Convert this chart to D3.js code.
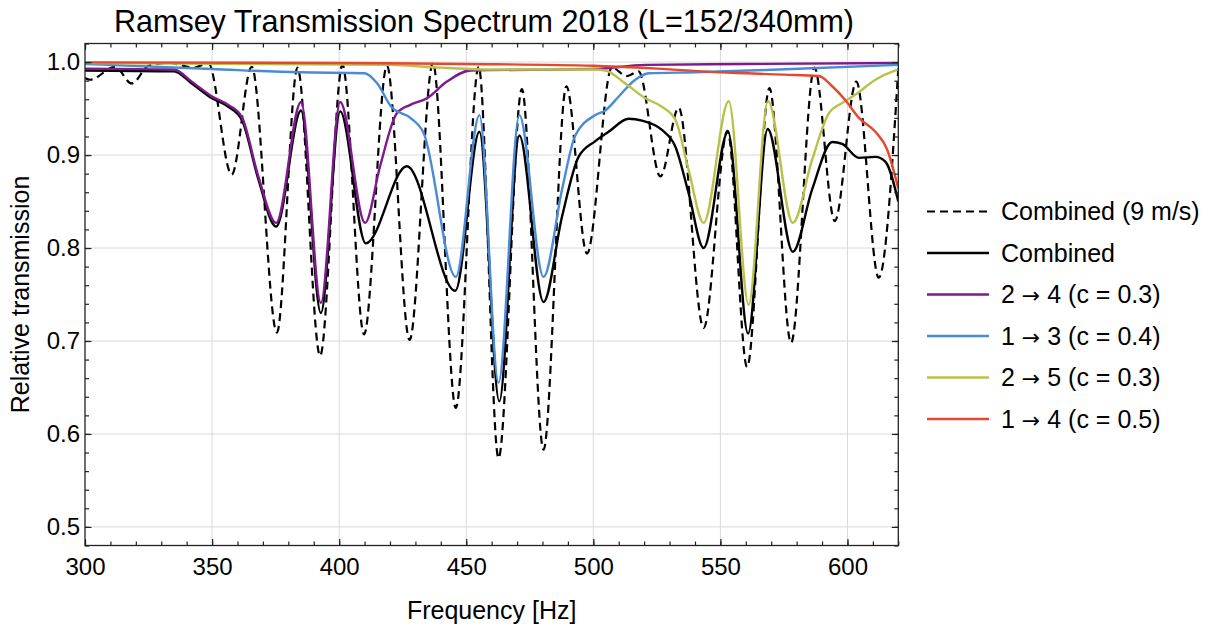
<!DOCTYPE html>
<html>
<head>
<meta charset="utf-8">
<script src="https://cdn.jsdelivr.net/npm/d3@7"></script>
<style>
    body { margin: 0; background: #fff; }
    svg { display: block; background: #fff; }
</style>
</head>
<body>
<svg id="chart" width="1208" height="628"></svg>
<script>
const FONT = "Arial, 'Liberation Sans', Helvetica, sans-serif";
const ARROW_FONT = "'DejaVu Sans', sans-serif";

const TITLE = 'Ramsey Transmission Spectrum 2018 (L=152/340mm)';
const X_LABEL = 'Frequency [Hz]';
const Y_LABEL = 'Relative transmission';
const X_TICKS = [300, 350, 400, 450, 500, 550, 600];
const Y_TICKS = [0.5, 0.6, 0.7, 0.8, 0.9, 1.0];

// [frequency Hz, relative transmission]
const combined9 = [
    [300, 0.983], [302, 0.981], [311.8, 0.995], [318.4, 0.977], [325, 0.996], [333, 0.999],
    [343, 0.994], [348.5, 0.999], [357.7, 0.879], [365.6, 0.995], [375.5, 0.709], [383.6, 0.994],
    [392.5, 0.684], [401.3, 0.997], [409.8, 0.707], [418.8, 0.996], [427.7, 0.701], [436.9, 0.999],
    [445.9, 0.628], [454.9, 0.995], [462.7, 0.574], [471.9, 0.971], [480.4, 0.583], [489.4, 0.974],
    [497.5, 0.794], [507.3, 0.994], [513.2, 0.985], [517.8, 0.990], [526.4, 0.877], [533.6, 0.951],
    [543.4, 0.714], [552.8, 0.926], [560.5, 0.672], [569.3, 0.972], [577.8, 0.698], [587, 0.994],
    [595, 0.829], [603.5, 0.979], [612.3, 0.768], [620, 0.993],
];

const combined = [
    [300, 0.991], [335, 0.990], [342, 0.977], [350, 0.961], [356.4, 0.952], [361.7, 0.938],
    [368.2, 0.874], [375.2, 0.823], [385, 0.948], [392.8, 0.730], [400.4, 0.947], [410.5, 0.805],
    [426.6, 0.888], [445.7, 0.754], [455.2, 0.925], [463, 0.635], [470.9, 0.921], [480.4, 0.742],
    [487.7, 0.834], [494.2, 0.898], [500.8, 0.915], [506, 0.925], [513.9, 0.939], [519.2, 0.937],
    [527, 0.927], [532.3, 0.909], [537.5, 0.859], [543.4, 0.800], [553, 0.925], [560.9, 0.708],
    [568.6, 0.928], [578.5, 0.796], [586.1, 0.863], [594, 0.914], [597.9, 0.912], [604.5, 0.897],
    [611, 0.898], [614.9, 0.893], [620, 0.850],
];

const trans24 = [
    [300, 0.993], [335, 0.992], [342, 0.979], [350, 0.963], [356.4, 0.954], [361.7, 0.941],
    [368.2, 0.877], [375.2, 0.827], [385, 0.957], [392.8, 0.741], [400.4, 0.957], [410.2, 0.827],
    [416.1, 0.888], [422.7, 0.945], [428, 0.954], [434.5, 0.961], [442.4, 0.979], [451.6, 0.991],
    [500, 0.9925], [520.5, 0.997], [560, 0.998], [620, 0.999],
];

const trans13 = [
    [300, 0.998], [350, 0.9925], [385, 0.989], [410, 0.988], [415, 0.977], [420.5, 0.952],
    [428, 0.940], [433.2, 0.924], [445.9, 0.769], [455.2, 0.943], [462.7, 0.655], [470.9, 0.943],
    [480.4, 0.769], [487.7, 0.863], [492.9, 0.921], [500.8, 0.943], [504.7, 0.948], [510, 0.963],
    [516.5, 0.981], [521.8, 0.988], [540, 0.989], [573, 0.992], [620, 0.997],
];

const trans25 = [
    [300, 0.999], [420, 0.997], [440, 0.994], [460, 0.992], [500, 0.992], [504.7, 0.991],
    [512.6, 0.977], [520.5, 0.961], [527, 0.952], [532.3, 0.938], [537.5, 0.884], [543.4, 0.827],
    [553.3, 0.958], [561.1, 0.739], [568.7, 0.958], [578.5, 0.827], [586.1, 0.895], [592.7, 0.945],
    [597.9, 0.956], [603.1, 0.965], [611, 0.981], [618.9, 0.991], [620, 0.992],
];

const trans14 = [
    [300, 0.9997], [400, 0.999], [450, 0.998], [500, 0.996], [525, 0.993], [550, 0.989],
    [575, 0.9865], [588.7, 0.985], [594, 0.974], [599.2, 0.959], [604.5, 0.940], [611, 0.925],
    [615.6, 0.906], [620, 0.864],
];

const SERIES = [
    { name: 'Combined (9 m/s)', data: combined9, color: '#000000', dash: '8,5' },
    { name: 'Combined', data: combined, color: '#000000' },
    { name: '2 \u2192 4 (c = 0.3)', data: trans24, color: '#7e1a8c' },
    { name: '1 \u2192 3 (c = 0.4)', data: trans13, color: '#4a8ad6' },
    { name: '2 \u2192 5 (c = 0.3)', data: trans25, color: '#b8c24a' },
    { name: '1 \u2192 4 (c = 0.5)', data: trans14, color: '#e4482e' },
];

const plot = { left: 85, right: 898.3, top: 43.5, bottom: 545.5 };

const x = d3.scaleLinear().domain([300, 620]).range([plot.left, plot.right]);
const y = d3.scaleLinear().domain([0.48, 1.02]).range([plot.bottom, plot.top]);

const svg = d3.select('#chart').attr('font-family', FONT);

svg.append('rect').attr('width', 1208).attr('height', 628).attr('fill', '#fff');

// grid
const grid = svg.append('g').attr('stroke', '#d9d9d9').attr('stroke-width', 1);
grid.selectAll('line.gx')
    .data(X_TICKS.filter(d => d > 300))
    .join('line')
    .attr('x1', d => x(d))
    .attr('x2', d => x(d))
    .attr('y1', plot.top)
    .attr('y2', plot.bottom);
grid.selectAll('line.gy')
    .data(Y_TICKS)
    .join('line')
    .attr('x1', plot.left)
    .attr('x2', plot.right)
    .attr('y1', d => y(d))
    .attr('y2', d => y(d));

// curves
svg.append('clipPath')
    .attr('id', 'clip')
    .append('rect')
    .attr('x', plot.left)
    .attr('y', plot.top)
    .attr('width', plot.right - plot.left)
    .attr('height', plot.bottom - plot.top);

const line = d3
    .line()
    .x(d => x(d[0]))
    .y(d => y(d[1]))
    .curve(d3.curveMonotoneX);

svg.append('g')
    .attr('clip-path', 'url(#clip)')
    .selectAll('path')
    .data(SERIES)
    .join('path')
    .attr('fill', 'none')
    .attr('stroke', d => d.color)
    .attr('stroke-width', d => (d.dash ? 2.2 : 2.4))
    .attr('stroke-dasharray', d => d.dash || null)
    .attr('stroke-linejoin', 'round')
    .attr('d', d => line(d.data));

// frame + ticks on all four sides
const xMinor = d3.range(300, 621, 10);
const yMinor = d3.range(48, 103, 2).map(v => v / 100);

function addAxis(axis, transform, values, size, labels) {
    const g = svg
        .append('g')
        .attr('transform', transform)
        .call(
            axis.tickValues(values)
                .tickSizeInner(-size)
                .tickSizeOuter(0)
                .tickPadding(labels ? labels.pad : 0)
                .tickFormat(labels ? labels.fmt : ''),
        );
    g.select('.domain').remove();
    g.attr('font-family', FONT).attr('font-size', 24);
    g.selectAll('line').attr('stroke', '#222').attr('stroke-width', 1.2);
    return g;
}

const fmtX = d3.format('d');
const fmtY = d3.format('.1f');

addAxis(d3.axisBottom(x), `translate(0,${plot.bottom})`, xMinor, 4);
addAxis(d3.axisBottom(x), `translate(0,${plot.bottom})`, X_TICKS, 6.5, { fmt: fmtX, pad: 12 });
addAxis(d3.axisTop(x), `translate(0,${plot.top})`, xMinor, 4);
addAxis(d3.axisTop(x), `translate(0,${plot.top})`, X_TICKS, 6.5);
addAxis(d3.axisLeft(y), `translate(${plot.left},0)`, yMinor, 4);
addAxis(d3.axisLeft(y), `translate(${plot.left},0)`, Y_TICKS, 6.5, { fmt: fmtY, pad: 5 });
addAxis(d3.axisRight(y), `translate(${plot.right},0)`, yMinor, 4);
addAxis(d3.axisRight(y), `translate(${plot.right},0)`, Y_TICKS, 6.5);

svg.append('rect')
    .attr('x', plot.left)
    .attr('y', plot.top)
    .attr('width', plot.right - plot.left)
    .attr('height', plot.bottom - plot.top)
    .attr('fill', 'none')
    .attr('stroke', '#222')
    .attr('stroke-width', 1.3);

// titles
svg.append('text')
    .attr('x', 484)
    .attr('y', 32)
    .attr('text-anchor', 'middle')
    .attr('font-size', 30.5)
    .attr('fill', '#000')
    .text(TITLE);

svg.append('text')
    .attr('x', (plot.left + plot.right) / 2)
    .attr('y', 619)
    .attr('text-anchor', 'middle')
    .attr('font-size', 25)
    .attr('fill', '#000')
    .text(X_LABEL);

svg.append('text')
    .attr('transform', `translate(29,${(plot.top + plot.bottom) / 2}) rotate(-90)`)
    .attr('text-anchor', 'middle')
    .attr('font-size', 25)
    .attr('fill', '#000')
    .text(Y_LABEL);

// legend
const legend = svg
    .append('g')
    .selectAll('g')
    .data(SERIES)
    .join('g')
    .attr('transform', (d, i) => `translate(927,${211.5 + i * 41.5})`);

legend.append('line')
    .attr('x1', 0)
    .attr('x2', 62)
    .attr('stroke', d => d.color)
    .attr('stroke-width', d => (d.dash ? 2.2 : 2.4))
    .attr('stroke-dasharray', d => d.dash || null);

legend.append('text')
    .attr('x', 74)
    .attr('dy', '0.35em')
    .attr('font-size', 25)
    .attr('fill', '#000')
    .each(function (d) {
        const parts = d.name.split('\u2192');
        const t = d3.select(this);
        parts.forEach((p, i) => {
            if (i > 0) {
                t.append('tspan').attr('font-family', ARROW_FONT).attr('font-size', 22).text('\u2192');
            }
            t.append('tspan').text(p);
        });
    });
</script>
</body>
</html>
